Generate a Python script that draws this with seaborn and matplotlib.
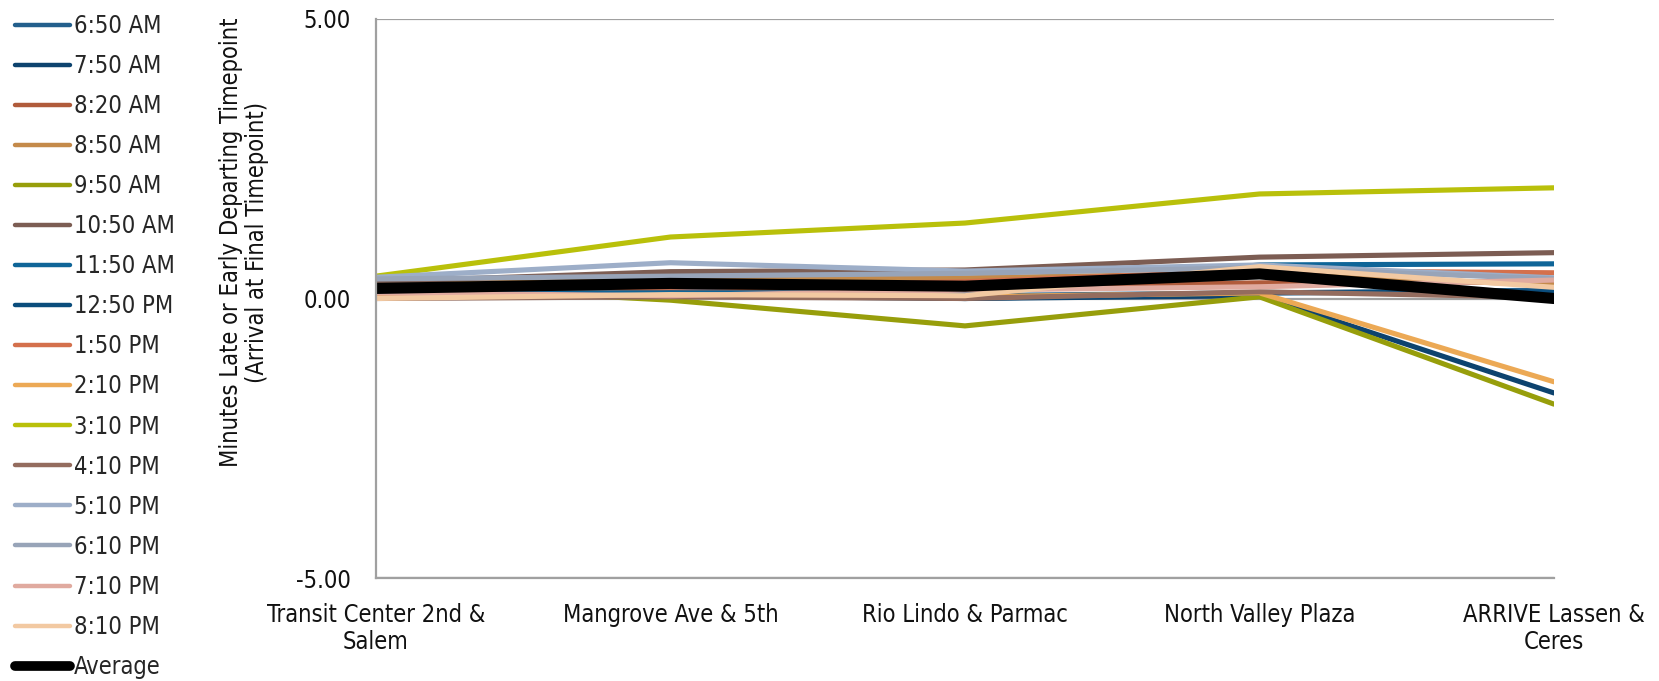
import matplotlib
matplotlib.use("Agg")
import matplotlib.pyplot as plt
from matplotlib.lines import Line2D
from matplotlib import font_manager
import seaborn as sns
import pandas as pd

# Timepoints along the route
stops = ["Transit Center 2nd &\nSalem", "Mangrove Ave & 5th", "Rio Lindo & Parmac",
         "North Valley Plaza", "ARRIVE Lassen &\nCeres"]

# Minutes late (+) or early (-) per trip
trip_650am = [0.20, 0.15, 0.05, 0.10, 0.15]
trip_750am = [0.15, 0.10, 0.00, 0.05, -1.69]
trip_820am = [0.30, 0.10, 0.20, 0.28, 0.30]
trip_850am = [0.30, 0.37, 0.37, 0.45, 0.24]
trip_950am = [0.25, -0.03, -0.49, 0.03, -1.89]
trip_1050am = [0.30, 0.48, 0.51, 0.74, 0.82]
trip_1150am = [0.10, 0.10, 0.10, 0.60, 0.62]
trip_1250pm = [0.05, 0.05, 0.00, 0.10, 0.12]
trip_150pm = [0.20, 0.20, 0.30, 0.50, 0.46]
trip_210pm = [0.05, 0.05, 0.03, 0.10, -1.49]
trip_310pm = [0.40, 1.10, 1.35, 1.87, 1.98]
trip_410pm = [0.00, 0.03, 0.00, 0.12, 0.02]
trip_510pm = [0.38, 0.64, 0.49, 0.60, 0.37]
trip_610pm = [0.35, 0.40, 0.45, 0.55, 0.35]
trip_710pm = [0.10, 0.05, 0.15, 0.21, 0.33]
trip_810pm = [0.00, 0.07, 0.05, 0.57, 0.20]
average = [0.18, 0.27, 0.22, 0.44, 0.00]

trip_labels = ["6:50 AM", "7:50 AM", "8:20 AM", "8:50 AM", "9:50 AM", "10:50 AM",
               "11:50 AM", "12:50 PM", "1:50 PM", "2:10 PM", "3:10 PM", "4:10 PM",
               "5:10 PM", "6:10 PM", "7:10 PM", "8:10 PM"]
trip_values = [trip_650am, trip_750am, trip_820am, trip_850am, trip_950am, trip_1050am,
               trip_1150am, trip_1250pm, trip_150pm, trip_210pm, trip_310pm, trip_410pm,
               trip_510pm, trip_610pm, trip_710pm, trip_810pm]
trip_colors = ["#235F8C", "#0D436E", "#B05B3B", "#C48A4A", "#979E0B", "#7C5D53",
               "#0F6598", "#0B4D7C", "#D4704C", "#ECA955", "#B9C00A", "#946C5E",
               "#9DAEC8", "#98A4B8", "#E0AA9F", "#F2C9A2"]

sns.set_theme(style="white")

# Prefer a narrow sans face if one is present on the system
narrow_family = None
for key in ("LiberationSansNarrow-Regular", "DejaVuSansCondensed.ttf", "RobotoCondensed",
            "Narrow", "Condensed"):
    for f in font_manager.fontManager.ttflist:
        base = f.fname.split("/")[-1]
        if key in base and "Bold" not in base and "Oblique" not in base and "Italic" not in base:
            narrow_family = f
            break
    if narrow_family is not None:
        break

if narrow_family is not None:
    plt.rcParams["font.family"] = [narrow_family.name, "DejaVu Sans"]
    plt.rcParams["font.stretch"] = narrow_family.stretch
else:
    plt.rcParams["font.family"] = ["Liberation Sans", "DejaVu Sans"]

FS = 17

rows = []
for lab, vals in zip(trip_labels, trip_values):
    for i, v in enumerate(vals):
        rows.append({"trip": lab, "pos": i, "minutes": v})
df = pd.DataFrame(rows)
df_avg = pd.DataFrame({"pos": range(len(stops)), "minutes": average})

fig = plt.figure(figsize=(16.59, 6.81), dpi=100)
ax = fig.add_axes([376 / 1659, 1 - 578 / 681, (1554 - 376) / 1659, (578 - 19) / 681])

grid_c = "#A0A0A0"
for yv in (-5, 0, 5):
    ax.axhline(yv, color=grid_c, lw=1.6, zorder=0)

palette = dict(zip(trip_labels, trip_colors))
sns.lineplot(data=df, x="pos", y="minutes", hue="trip", hue_order=trip_labels,
             palette=palette, linewidth=3.7, ax=ax, legend=False, sort=False,
             solid_capstyle="round", solid_joinstyle="round")
sns.lineplot(data=df_avg, x="pos", y="minutes", color="black", linewidth=8.0, ax=ax,
             legend=False, solid_capstyle="round", solid_joinstyle="round")

ax.set_xlim(0, len(stops) - 1)
ax.set_ylim(-5, 5)
ax.set_yticks([-5, 0, 5])
ax.set_yticklabels(["-5.00", "0.00", "5.00"])
ax.set_xticks(range(len(stops)))
ax.set_xticklabels(stops, multialignment="center")
ax.tick_params(axis="both", length=0, labelsize=FS, colors="#111111")
ax.tick_params(axis="y", pad=18)
ax.tick_params(axis="x", pad=18)
for lbl in ax.get_xticklabels():
    lbl.set_linespacing(1.15)
ax.set_xlabel("")
ax.set_ylabel("")
for s in ("top", "right"):
    ax.spines[s].set_visible(False)
for s in ("left", "bottom"):
    ax.spines[s].set_color(grid_c)
    ax.spines[s].set_linewidth(1.6)

fig.text(244 / 1659, 1 - 242 / 681,
         "Minutes Late or Early Departing Timepoint\n(Arrival at Final Timepoint)",
         rotation=90, ha="center", va="center", multialignment="center",
         fontsize=FS, color="#111111", linespacing=1.15)

handles = [Line2D([], [], color=c, lw=3.2, solid_capstyle="round") for c in trip_colors]
handles.append(Line2D([], [], color="black", lw=7.0, solid_capstyle="round"))
labels = trip_labels + ["Average"]
fig.legend(handles, labels, loc="upper left", bbox_to_anchor=(15 / 1659, 1 - 14 / 681),
           frameon=False, fontsize=FS, handlelength=2.35, handletextpad=0.13,
           labelspacing=0.68, borderpad=0, borderaxespad=0)

fig.savefig("out.png", dpi=100)
